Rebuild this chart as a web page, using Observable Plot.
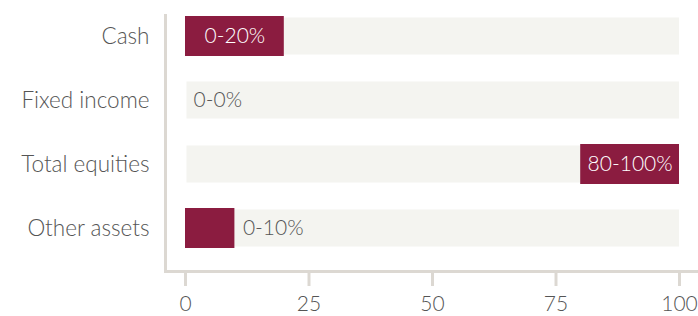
<!DOCTYPE html>
<html>
<head>
<meta charset="utf-8">
<script src="https://cdn.jsdelivr.net/npm/d3@7"></script>
<script src="https://cdn.jsdelivr.net/npm/@observablehq/plot@0.6"></script>
<style>
  html, body { margin: 0; padding: 0; background: #ffffff; }
  #chart svg { display: block; }
</style>
</head>
<body>
<div id="chart"></div>
<script>
const categories = ["Cash", "Fixed income", "Total equities", "Other assets"];
const minValues = [0, 0, 80, 0];
const maxValues = [20, 0, 100, 10];
const xTicks = [0, 25, 50, 75, 100];

const rows = categories.map((c, i) => ({
  category: c,
  min: minValues[i],
  max: maxValues[i],
  label: `${minValues[i]}-${maxValues[i]}%`,
  inside: maxValues[i] - minValues[i] >= 15
}));

const maroon = "#8b1c40";
const bg = "#f4f4f0";
const axisGray = "#dcd8d2";
const textGray = "#555555";
const font = "Lato, 'Open Sans', sans-serif";

const chart = Plot.plot({
  width: 698,
  height: 316,
  marginLeft: 165,
  marginRight: 0,
  marginTop: 15,
  marginBottom: 45,
  style: { fontFamily: font, fontSize: "22px", fontWeight: 300, color: textGray, background: "#ffffff" },
  x: { domain: [0, 100], insetLeft: 20, insetRight: 19 },
  y: { domain: categories, paddingInner: 0.375, paddingOuter: 0, insetTop: 1, insetBottom: 23 },
  marks: [
    Plot.barX(rows, { y: "category", x1: 0, x2: 100, fill: bg, insetTop: 1.5, insetBottom: 1.5, insetLeft: 1.5 }),
    Plot.barX(rows, { y: "category", x1: "min", x2: "max", fill: maroon }),
    Plot.text(rows.filter(d => d.inside), { y: "category", x: d => (d.min + d.max) / 2, text: "label", fill: "#ffffff", fontSize: 21, fontWeight: 300, textAnchor: "middle" }),
    Plot.text(rows.filter(d => !d.inside), { y: "category", x: "max", text: "label", fill: textGray, fontSize: 21, fontWeight: 300, textAnchor: "start", dx: 8 }),
    Plot.axisX({ ticks: xTicks, tickSize: 15, tickPadding: 10, stroke: axisGray, strokeWidth: 3, fill: textGray, fontSize: 21, label: null }),
    Plot.axisY({ tickSize: 0, tickPadding: 16, fill: textGray, fontSize: 22.5, label: null }),
    Plot.frame({ anchor: "left", stroke: axisGray, strokeWidth: 3 }),
    Plot.frame({ anchor: "bottom", stroke: axisGray, strokeWidth: 3 })
  ]
});

document.getElementById("chart").appendChild(chart);
</script>
</body>
</html>
